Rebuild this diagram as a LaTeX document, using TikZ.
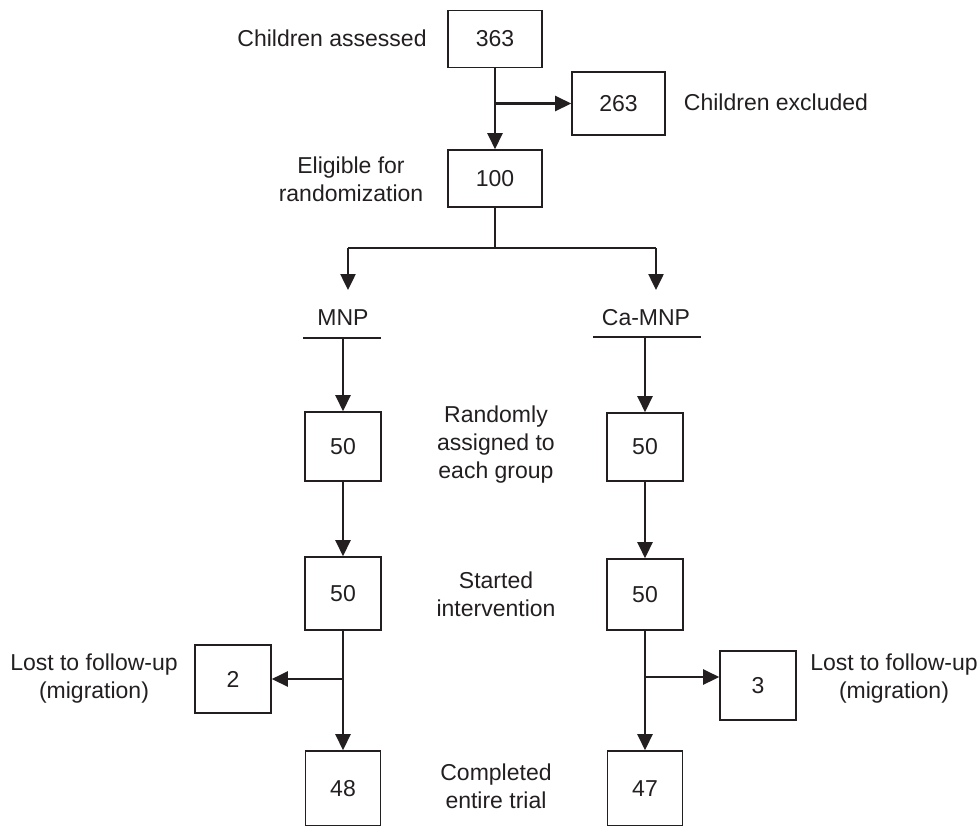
\documentclass[tikz,border=0pt]{standalone}
\usepackage{fontspec}
\setmainfont{Liberation Sans}
\usetikzlibrary{arrows.meta}
\definecolor{ink}{HTML}{231F20}
\begin{document}
\begin{tikzpicture}[x=1pt,y=-1pt,
  every node/.style={text=ink,font=\fontsize{23}{28}\selectfont},
  numbox/.style={draw=ink,line width=1.6pt,inner sep=0pt,minimum width=#1},
  numbox/.default=76pt,
  lbl/.style={align=center,inner sep=0pt},
  conn/.style={draw=ink,line width=2.5pt},
  arr/.style={conn,-{Triangle[length=16pt,width=15pt]}}]
\useasboundingbox (0,0) rectangle (980,825);
\clip (0,0) rectangle (980,825);
% top part
\node[numbox=94pt,minimum height=57pt] (b363) at (495,39) {363};
\node[numbox=93pt,minimum height=63pt] (b263) at (618.5,103.5) {263};
\node[numbox=94pt,minimum height=57pt] (b100) at (495,178.5) {100};
\node[lbl] (tassess) at (332,38) {Children assessed};
\node[lbl] (texcl) at (776,102) {Children excluded};
\node[lbl] (telig) at (351,179) {Eligible for\\randomization};
\coordinate (j1) at (495,103.5);
\draw[arr] (b363.south) -- (b100.north);
\draw[arr] (j1) -- (b263.west);
% split
\coordinate (j2) at (495,248);
\coordinate (sl) at (348,248);
\coordinate (sr) at (656,248);
\coordinate (el) at (348,290);
\coordinate (er) at (656,290);
\draw[conn] (b100.south) -- (j2);
\draw[conn] (sl) -- (sr);
\draw[arr] (sl) -- (el);
\draw[arr] (sr) -- (er);
% group headers
\node[lbl] (tmnp) at (343,318) {MNP};
\node[lbl] (tcamnp) at (646,318) {Ca-MNP};
\coordinate (ul1) at (303,338);
\coordinate (ul2) at (381,338);
\coordinate (ur1) at (593,337);
\coordinate (ur2) at (701,337);
\coordinate (ulm) at (343,338);
\coordinate (urm) at (645,337);
\draw[conn] (ul1) -- (ul2);
\draw[conn] (ur1) -- (ur2);
% boxes
\node[numbox,minimum height=69pt] (bL1) at (343,446.5) {50};
\node[numbox,minimum height=68pt] (bR1) at (645,447) {50};
\node[numbox,minimum height=73pt] (bL2) at (343,593.5) {50};
\node[numbox,minimum height=71pt] (bR2) at (645,594.5) {50};
\node[numbox,minimum height=68pt] (b2) at (233,679) {2};
\node[numbox,minimum height=69pt] (b3) at (758,685.5) {3};
\node[numbox=75pt,minimum height=75pt] (b48) at (343,788.5) {48};
\node[numbox=75pt,minimum height=75pt] (b47) at (645,788.5) {47};
% labels
\node[lbl] (trand) at (496,445) {Randomly\\assigned to\\each group};
\node[lbl] (tstart) at (496,594.5) {Started\\intervention};
\node[lbl] (tcompl) at (496,786) {Completed\\entire trial};
\node[lbl] (tlostl) at (94,679) {Lost to follow-up\\(migration)};
\node[lbl] (tlostr) at (894,679) {Lost to follow-up\\(migration)};
% connectors
\draw[arr] (ulm) -- (bL1.north);
\draw[arr] (urm) -- (bR1.north);
\draw[arr] (bL1.south) -- (bL2.north);
\draw[arr] (bR1.south) -- (bR2.north);
\draw[arr] (bL2.south) -- (b48.north);
\draw[arr] (bR2.south) -- (b47.north);
\coordinate (jl) at (343,679);
\coordinate (jr) at (645,677);
\draw[arr] (jl) -- (b2.east);
\draw[arr] (jr) -- (b3.west |- jr);
\end{tikzpicture}
\end{document}
